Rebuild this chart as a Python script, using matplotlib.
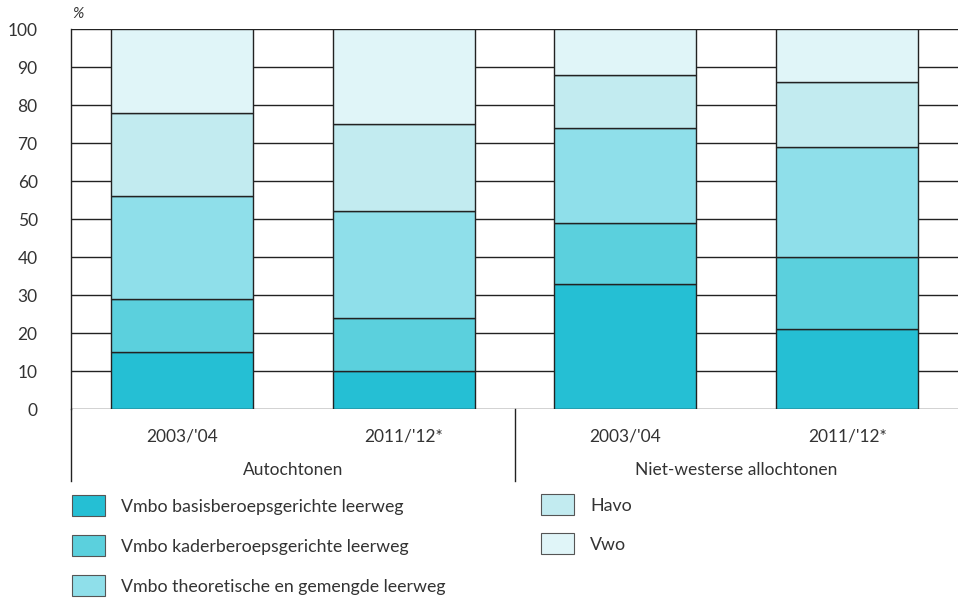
import matplotlib
matplotlib.use('Agg')
import matplotlib.pyplot as plt
from matplotlib.patches import Rectangle
import numpy as np

plt.rcParams['font.family'] = ['Lato', 'DejaVu Sans']

# data (percentages, stacked bottom to top)
jaren = ["2003/'04", "2011/'12*", "2003/'04", "2011/'12*"]
groepen = ['Autochtonen', 'Niet-westerse allochtonen']
niveaus = ['Vmbo basisberoepsgerichte leerweg', 'Vmbo kaderberoepsgerichte leerweg',
           'Vmbo theoretische en gemengde leerweg', 'Havo', 'Vwo']
basis = [15, 10, 33, 21]
kader = [14, 14, 16, 19]
theor = [27, 28, 25, 29]
havo = [22, 23, 14, 17]
vwo = [22, 25, 12, 14]
yticks = [0, 10, 20, 30, 40, 50, 60, 70, 80, 90, 100]

KLEUR = ['#25BFD4', '#5BD0DD', '#8FDFEA', '#C2EBF0', '#E0F5F8']
INK = '#222222'
TXT = '#333333'
FS = 12.5
W, H = 958, 598

fig = plt.figure(figsize=(W / 100, H / 100), dpi=100)
ax = fig.add_axes([71 / W, (H - 409) / H, (W - 71) / W, 380 / H])

x = np.arange(len(jaren))
bottom = np.zeros(len(jaren))
for serie, kl in zip([basis, kader, theor, havo, vwo], KLEUR):
    ax.bar(x, serie, width=0.64, bottom=bottom, color=kl, edgecolor=INK, linewidth=1.0, zorder=3)
    bottom += np.array(serie)

ax.set_xlim(-0.5, 3.5)
ax.set_ylim(0, 100)
ax.set_yticks(yticks)
ax.set_yticklabels([str(v) for v in yticks], fontsize=FS, color=TXT)
ax.tick_params(axis='y', length=0, pad=24)
ax.set_xticks([])
for v in yticks:
    ax.axhline(v, color=INK, linewidth=1.0, zorder=1)
for s in ['top', 'right', 'bottom']:
    ax.spines[s].set_visible(False)
ax.spines['left'].set_color(INK)
ax.spines['left'].set_linewidth(1.0)

tr = ax.get_xaxis_transform()
# left spine extension and group separator below the axis
ax.plot([-0.5, -0.5], [0, -0.19], transform=tr, color=INK, lw=1.0, clip_on=False)
ax.plot([1.5, 1.5], [0, -0.19], transform=tr, color=INK, lw=1.0, clip_on=False)
for xi, lab in zip(x, jaren):
    ax.text(xi, -0.072, lab, transform=tr, ha='center', va='center', fontsize=FS, color=TXT)
ax.text(0.5, -0.16, groepen[0], transform=tr, ha='center', va='center', fontsize=FS, color=TXT)
ax.text(2.5, -0.16, groepen[1], transform=tr, ha='center', va='center', fontsize=FS, color=TXT)

fig.text(72 / W, 1 - 14 / H, '%', fontsize=11, style='italic', color=TXT, ha='left', va='center')

# legend, drawn by hand in two columns
posities = [(72, 505), (72, 545), (72, 585), (541, 504), (541, 543)]
for (px, py), naam, kl in zip(posities, niveaus, KLEUR):
    fig.add_artist(Rectangle((px / W, 1 - (py + 10.5) / H), 33 / W, 21 / H, transform=fig.transFigure,
                             facecolor=kl, edgecolor='#555555', linewidth=0.8))
    fig.text((px + 49) / W, 1 - (py + 2) / H, naam, fontsize=12.8, color=TXT, ha='left', va='center')

fig.savefig('out.png', dpi=100)
